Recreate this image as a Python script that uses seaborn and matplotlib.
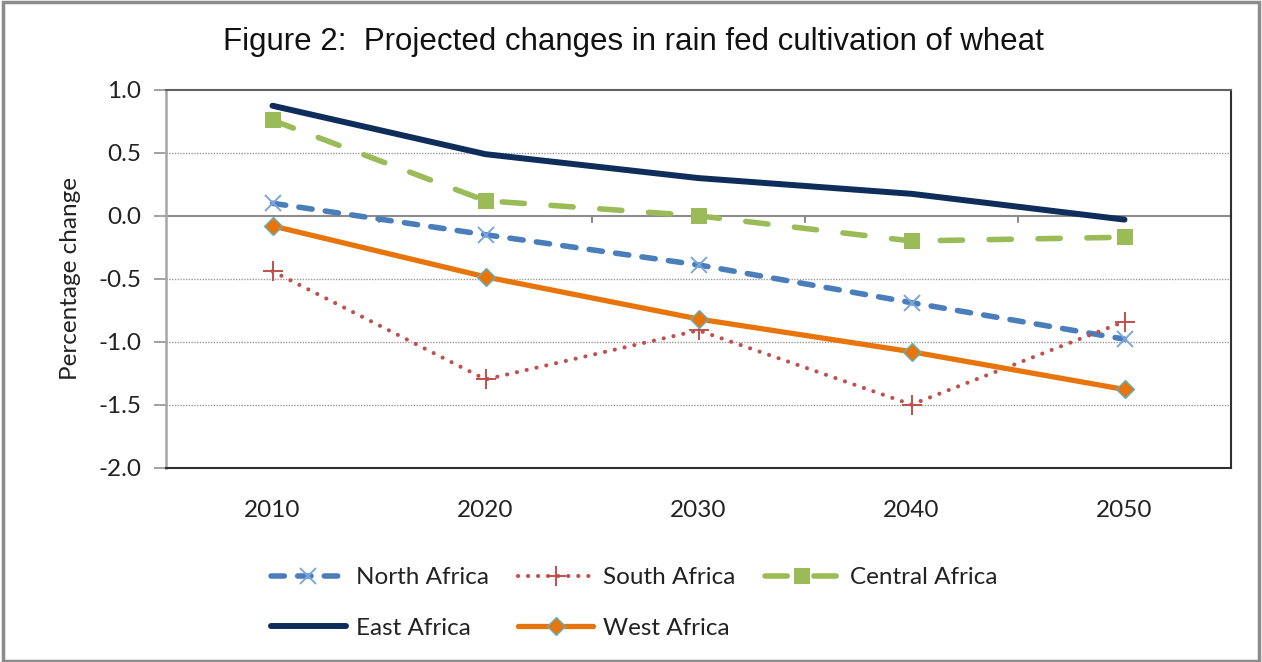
import matplotlib
matplotlib.use("Agg")
import matplotlib.pyplot as plt
from matplotlib.patches import Rectangle
import numpy as np
import pandas as pd
import seaborn as sns

# Projected percentage change in rain-fed wheat cultivation by region
years = ["2010", "2020", "2030", "2040", "2050"]
north_africa = [0.10, -0.15, -0.39, -0.69, -0.98]
south_africa = [-0.44, -1.30, -0.91, -1.50, -0.84]
central_africa = [0.76, 0.12, 0.00, -0.20, -0.17]
east_africa = [0.875, 0.49, 0.30, 0.175, -0.03]
west_africa = [-0.08, -0.485, -0.82, -1.08, -1.38]

y_ticks = [1.0, 0.5, 0.0, -0.5, -1.0, -1.5, -2.0]

sns.set_style("white")
plt.rcParams["font.family"] = ["Lato", "DejaVu Sans"]

W, H = 1262, 662
fig = plt.figure(figsize=(W / 100, H / 100), dpi=100)
ax = fig.add_axes([166 / W, 1 - 467.5 / H, (1231 - 166) / W, (467.5 - 90) / H])

series = {
    "North Africa": north_africa,
    "South Africa": south_africa,
    "Central Africa": central_africa,
    "East Africa": east_africa,
    "West Africa": west_africa,
}
rows = []
for name, vals in series.items():
    for i, (yr, v) in enumerate(zip(years, vals)):
        rows.append({"region": name, "pos": i, "year": yr, "value": v})
df = pd.DataFrame(rows)

styles = {
    "North Africa": dict(color="#4a7ebb", lw=4.0, linestyle=(0, (2.4, 2.4)),
                         marker="x", ms=12, mew=1.4, mec="#7aa6dc", mfc="#7aa6dc"),
    "South Africa": dict(color="#c0504d", lw=3.0, linestyle=(0, (0.01, 2.4)),
                         marker="+", ms=15, mew=1.4, mec="#c0504d"),
    "Central Africa": dict(color="#9bbb59", lw=4.0, linestyle=(0, (4.0, 4.8)),
                           marker="s", ms=11, mew=0, mfc="#9bbb59"),
    "East Africa": dict(color="#0e2d5a", lw=4.3, linestyle="-", marker=None),
    "West Africa": dict(color="#e8740c", lw=3.8, linestyle="-",
                        marker="D", ms=9.5, mew=1.0, mec="#5fb3c3", mfc="#e8740c"),
}

for name in series:
    st = dict(styles[name])
    sub = df[df["region"] == name]
    sns.lineplot(data=sub, x="pos", y="value", ax=ax, sort=False, errorbar=None,
                 dash_capstyle="round", solid_capstyle="round", label=name, **st)

handle_map = dict(zip(*ax.get_legend_handles_labels()[::-1]))

ax.set_xlim(-0.5, 4.5)
ax.set_ylim(-2.0, 1.0)
ax.set_yticks(y_ticks)
ax.set_yticklabels([f"{t:.1f}" for t in y_ticks], fontsize=17.5, color="#222222")
ax.set_xticks([])
ax.set_xlabel("")
ax.set_ylabel("Percentage change", fontsize=17.5, color="#222222", labelpad=12)

# category labels below the plot area
for i, yr in enumerate(years):
    ax.text(i, -2.0 - 0.26, yr, transform=ax.transData, ha="center", va="top",
            fontsize=17.5, color="#222222")

# dotted gridlines and the solid zero line with category tick marks
for g in [0.5, -0.5, -1.0, -1.5]:
    ax.axhline(g, color="#9a9a9a", lw=1.0, linestyle=(0, (1, 1)), zorder=0)
ax.axhline(0.0, color="#8c8c8c", lw=1.5, zorder=1)
for b in [0.5, 1.5, 2.5, 3.5]:
    ax.plot([b, b], [0.0, -0.05], color="#8c8c8c", lw=1.5, zorder=1)

ax.tick_params(axis="y", length=9, width=1.3, color="#9a9a9a", left=True, pad=9)
ax.spines["left"].set_color("#a6a6a6")
ax.spines["left"].set_linewidth(1.8)
ax.spines["top"].set_color("#606060")
ax.spines["top"].set_linewidth(1.5)
ax.spines["right"].set_color("#303030")
ax.spines["right"].set_linewidth(1.5)
ax.spines["bottom"].set_color("#303030")
ax.spines["bottom"].set_linewidth(1.5)

ax.get_legend().remove()
order = ["North Africa", "East Africa", "South Africa", "West Africa", "Central Africa"]
fig.legend([handle_map[n] for n in order], order, ncol=3, loc="center",
           bbox_to_anchor=(634 / W, 1 - 603 / H), frameon=False, fontsize=17.5,
           handlelength=3.1, handletextpad=0.4, columnspacing=1.2,
           labelspacing=1.2, labelcolor="#222222")

fig.text(633 / W, 1 - 42 / H, "Figure 2:  Projected changes in rain fed cultivation of wheat",
         ha="center", va="center", fontsize=22.5, family=["Liberation Sans", "DejaVu Sans"],
         color="#111111")

fig.patches.append(Rectangle((0.002, 0.002), 0.996, 0.995, transform=fig.transFigure,
                             fill=False, edgecolor="#8c8c8c", lw=2.5))

fig.savefig("out.png", dpi=100, facecolor="white")
